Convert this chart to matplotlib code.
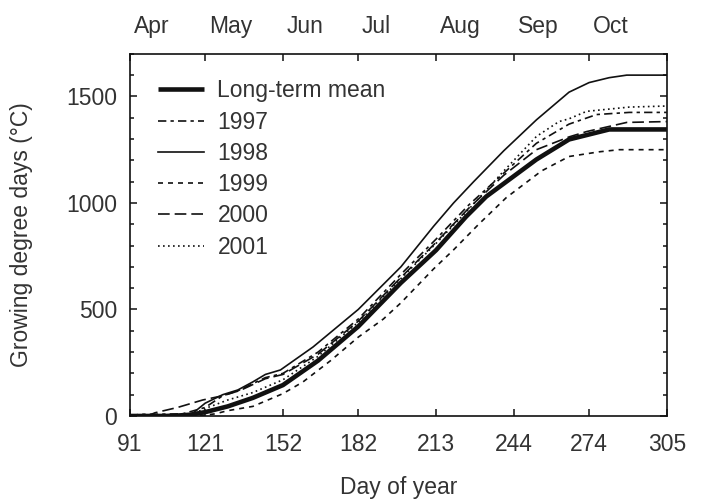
import matplotlib.pyplot as plt
import matplotlib.transforms as mtransforms
from matplotlib.ticker import MultipleLocator

plt.rcParams['font.family'] = ['Liberation Sans', 'DejaVu Sans']

# day-of-year ticks and month labels
day_ticks = [91, 121, 152, 182, 213, 244, 274, 305]
month_starts = [91, 121, 152, 182, 213, 244, 274]
month_names = ['Apr', 'May', 'Jun', 'Jul', 'Aug', 'Sep', 'Oct']

# long-term mean
mean_days = [91, 105, 110, 115, 121, 130, 140, 152, 166, 182, 199, 213, 225, 233, 253, 266, 282, 290, 305]
mean_gdd = [0, 0, 2, 6, 18, 45, 85, 145, 260, 420, 625, 778, 936, 1030, 1204, 1298, 1345, 1345, 1345]

# 1997
d1997 = [91, 95, 100, 112, 121, 128, 134, 145, 152, 166, 182, 199, 213, 226, 240, 253, 266, 277, 290, 305]
g1997 = [0, 8, 8, 10, 40, 95, 118, 180, 200, 300, 455, 665, 830, 990, 1140, 1280, 1370, 1415, 1425, 1425]

# 1998
d1998 = [91, 112, 116, 121, 128, 134, 140, 145, 151, 164, 182, 199, 212, 220, 228, 240, 253, 266, 274, 282, 289, 305]
g1998 = [0, 0, 12, 60, 100, 122, 160, 195, 216, 324, 500, 700, 890, 1000, 1100, 1245, 1390, 1520, 1565, 1588, 1600, 1600]

# 1999
d1999 = [91, 118, 125, 130, 140, 152, 160, 171, 182, 192, 199, 212, 220, 230, 241, 255, 266, 278, 286, 305]
g1999 = [0, 0, 10, 25, 45, 105, 160, 260, 370, 455, 531, 690, 780, 900, 1025, 1150, 1218, 1240, 1250, 1250]

# 2000
d2000 = [91, 98, 101, 110, 120, 128, 135, 145, 152, 166, 182, 199, 213, 226, 240, 253, 266, 273, 289, 305]
g2000 = [0, 0, 15, 40, 75, 95, 120, 175, 195, 290, 445, 650, 815, 975, 1130, 1250, 1310, 1335, 1378, 1382]

# 2001
d2001 = [91, 115, 121, 130, 140, 152, 166, 182, 199, 213, 226, 240, 253, 262, 266, 273, 290, 305]
g2001 = [0, 5, 35, 75, 110, 170, 280, 440, 645, 810, 970, 1150, 1312, 1382, 1395, 1430, 1450, 1455]

ink = '#111111'
txt = '#333333'
fs = 16.5

fig = plt.figure(figsize=(7.02, 5.03), dpi=100)
ax = fig.add_axes([0.185, 0.173, 0.765, 0.720])

ax.plot(mean_days, mean_gdd, color=ink, lw=3.3, label='Long-term mean', solid_capstyle='butt')
ax.plot(d1997, g1997, color=ink, lw=1.2, ls=(0, (5, 2.5, 2, 2.5)), label='1997')
ax.plot(d1998, g1998, color=ink, lw=1.2, ls='-', label='1998')
ax.plot(d1999, g1999, color=ink, lw=1.2, ls=(0, (3, 3)), label='1999')
ax.plot(d2000, g2000, color=ink, lw=1.2, ls=(0, (7, 3)), label='2000')
ax.plot(d2001, g2001, color=ink, lw=1.2, ls=(0, (1, 2)), label='2001')

ax.set_xlim(91, 305)
ax.set_ylim(0, 1700)
ax.set_xticks(day_ticks)
ax.set_yticks([0, 500, 1000, 1500])
ax.yaxis.set_minor_locator(MultipleLocator(100))
ax.tick_params(which='both', direction='in', top=True, right=True, colors=ink,
               labelcolor=txt, labelsize=fs, width=1.1)
ax.tick_params(which='major', length=5)
ax.tick_params(axis='x', which='major', pad=12)
ax.tick_params(axis='y', which='major', pad=9)
ax.tick_params(which='minor', length=3)
for s in ax.spines.values():
    s.set_linewidth(1.2)
    s.set_color(ink)

ax.set_xlabel('Day of year', fontsize=fs, color=txt, labelpad=15)
ax.set_ylabel('Growing degree days (°C)', fontsize=fs, color=txt, labelpad=24)

trans = mtransforms.blended_transform_factory(ax.transData, ax.transAxes)
for d, m in zip(month_starts, month_names):
    ax.text(d + 1.5, 1.075, m, transform=trans, ha='left', va='center', fontsize=fs, color=txt)

leg = ax.legend(loc='upper left', frameon=False, fontsize=fs, handlelength=2.0,
                handletextpad=0.6, labelspacing=0.36, borderaxespad=0.0,
                bbox_to_anchor=(0.035, 0.955))
for t in leg.get_texts():
    t.set_color(txt)

fig.savefig('out.png', dpi=100)
